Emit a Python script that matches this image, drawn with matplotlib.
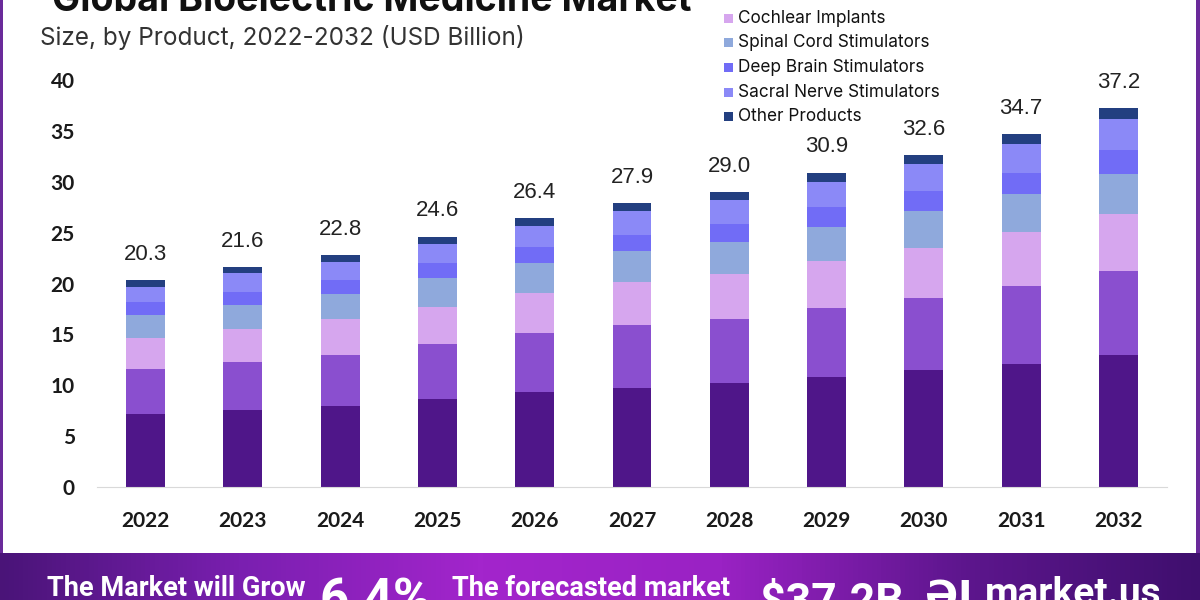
import numpy as np
import matplotlib
matplotlib.use("Agg")
from matplotlib import pyplot as plt
from matplotlib.patches import Rectangle
from matplotlib.colors import LinearSegmentedColormap

years = ["2022", "2023", "2024", "2025", "2026", "2027", "2028", "2029", "2030", "2031", "2032"]
totals = [20.3, 21.6, 22.8, 24.6, 26.4, 27.9, 29.0, 30.9, 32.6, 34.7, 37.2]

products = [
    "Implantable Cardioverter Defibrillators",
    "Cardiac Pacemakers",
    "Cochlear Implants",
    "Spinal Cord Stimulators",
    "Deep Brain Stimulators",
    "Sacral Nerve Stimulators",
    "Other Products",
]

# segment values per product (USD Billion)
icd = [7.2, 7.55, 8.0, 8.6, 9.3, 9.75, 10.2, 10.85, 11.45, 12.1, 13.0]
pacemakers = [4.4, 4.75, 4.95, 5.45, 5.85, 6.15, 6.35, 6.75, 7.15, 7.7, 8.25]
cochlear = [3.05, 3.25, 3.55, 3.65, 3.9, 4.2, 4.35, 4.65, 4.9, 5.25, 5.55]
spinal = [2.25, 2.35, 2.45, 2.8, 2.95, 3.05, 3.2, 3.35, 3.6, 3.75, 4.0]
deep_brain = [1.3, 1.3, 1.35, 1.5, 1.6, 1.65, 1.75, 1.9, 1.95, 2.1, 2.3]
sacral = [1.5, 1.8, 1.8, 1.9, 2.1, 2.3, 2.35, 2.5, 2.65, 2.8, 3.05]
other = [0.6, 0.6, 0.7, 0.7, 0.7, 0.8, 0.8, 0.9, 0.9, 1.0, 1.05]

series = [icd, pacemakers, cochlear, spinal, deep_brain, sacral, other]
colors = ["#4f1689", "#8a4fcf", "#d6a6ee", "#8fa9dc", "#716cf6", "#8b89f7", "#233f80"]

W, H = 1200, 600
fig = plt.figure(figsize=(12, 6), dpi=100, facecolor="white")

# main chart area
ax = fig.add_axes([97 / W, 1 - 487 / H, 1070 / W, 407 / H])
x = np.arange(len(years))
bottom = np.zeros(len(years))
for values, color, name in zip(series, colors, products):
    ax.bar(x, values, width=0.4, bottom=bottom, color=color, label=name, zorder=2)
    bottom += np.array(values)

for xi, top, total in zip(x, bottom, totals):
    ax.annotate(f"{total:.1f}", (xi, top), xytext=(0, 11), textcoords="offset points",
                ha="center", va="bottom", fontsize=16, color="#222222",
                family="Liberation Sans")

ax.set_xlim(-0.5, len(years) - 0.5)
ax.set_ylim(0, 40)
ax.set_yticks(range(0, 41, 5))
ax.set_xticks(x)
ax.set_xticklabels(years)
for spine in ["left", "right", "top"]:
    ax.spines[spine].set_visible(False)
ax.spines["bottom"].set_color("#d9d9d9")
ax.tick_params(axis="y", length=0, pad=16)
ax.tick_params(axis="x", length=0, pad=17)
for lbl in ax.get_xticklabels() + ax.get_yticklabels():
    lbl.set_fontfamily("Lato")
    lbl.set_fontweight("bold")
    lbl.set_fontsize(15)
    lbl.set_color("#1a1a1a")

# titles (cropped at the top like the source image)
fig.text(52 / W, 1 - 11 / H, "Global Bioelectric Medicine Market", fontsize=27,
         fontweight="bold", family="Inter", color="#111111", va="baseline", ha="left")
fig.text(40 / W, 1 - 37 / H, "Size, by Product, 2022-2032 (USD Billion)", fontsize=17.5,
         family="Inter", color="#333333", va="center", ha="left")

# legend, first entries cut off by the crop
step = 24.6
y_first = 18.3 - 2 * step
for i, (name, color) in enumerate(zip(products, colors)):
    yc = y_first + i * step
    fig.patches.append(Rectangle((724 / W, 1 - (yc + 4.5) / H), 9 / W, 9 / H,
                                 transform=fig.transFigure, facecolor=color,
                                 edgecolor="none"))
    fig.text(738 / W, 1 - yc / H, name, fontsize=12.4, family="Inter",
             color="#111111", va="center", ha="left")

# side frame lines
fig.patches.append(Rectangle((0, 47 / H), 3 / W, 1, transform=fig.transFigure,
                             facecolor="#6a2a9a", edgecolor="none"))
fig.patches.append(Rectangle((1196 / W, 47 / H), 4 / W, 1, transform=fig.transFigure,
                             facecolor="#6a2a9a", edgecolor="none"))

# bottom banner
band = fig.add_axes([0, 0, 1, 47 / H])
cmap = LinearSegmentedColormap.from_list(
    "band", ["#4a1478", "#7a1fb0", "#a325cc", "#9a22c4", "#5e168e", "#3f0f6e"])
band.imshow(np.linspace(0, 1, 256)[None, :], aspect="auto", cmap=cmap,
            extent=[0, 1, 0, 1])
band.set_xlim(0, 1)
band.set_ylim(0, 1)
band.axis("off")
band.text(47 / W, 0.08, "The Market will Grow", fontsize=19.5, fontweight="bold",
          family="Roboto", color="white", va="baseline", ha="left")
band.text(320 / W, -0.32, "6.4%", fontsize=37, fontweight="bold",
          family="Roboto", color="white", va="baseline", ha="left")
band.text(452 / W, 0.08, "The forecasted market", fontsize=19.5, fontweight="bold",
          family="Roboto", color="white", va="baseline", ha="left")
band.text(760 / W, -0.32, "$37.2B", fontsize=32, fontweight="bold",
          family="Roboto", color="white", va="baseline", ha="left")
band.text(925 / W, -0.2, "ƏI", fontsize=28, fontweight="bold",
          family="DejaVu Sans", color="white", va="baseline", ha="left")
band.text(985 / W, -0.1, "market.us", fontsize=28, fontweight="bold",
          family="Roboto", color="white", va="baseline", ha="left")

fig.savefig("out.png", dpi=100, facecolor="white")
